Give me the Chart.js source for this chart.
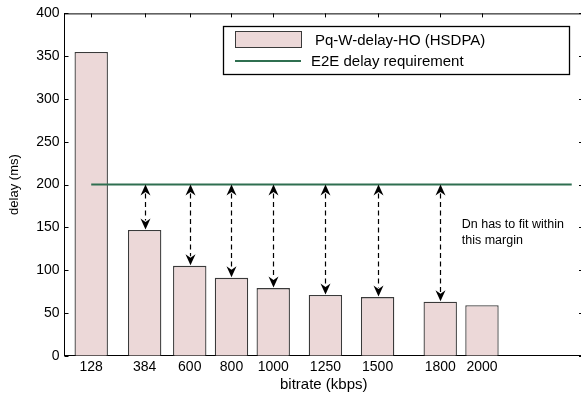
<!DOCTYPE html>
<html>
<head>
<meta charset="utf-8">
<script src="https://cdn.jsdelivr.net/npm/chart.js@4"></script>
<style>
    html, body { margin: 0; padding: 0; background: #fff; overflow: hidden; }
    #wrap { width: 590px; height: 395px; }
</style>
</head>
<body>
<div id="wrap"><canvas id="delayChart" width="590" height="395"></canvas></div>
<script>
// ===== DATA =====
const bitrates = [128, 384, 600, 800, 1000, 1250, 1500, 1800, 2000];
const delays = [355, 147, 105, 91, 79, 71, 68.5, 63, 59];
const requirementX = [128, 2430];
const requirementY = [200, 200];
const arrowBitrates = [384, 600, 800, 1000, 1250, 1500, 1800];
const yTicks = [0, 50, 100, 150, 200, 250, 300, 350, 400];
const noteLines = ['Dn has to fit within', 'this margin'];
const noteAt = [1903, 153];

const barFill = '#ecd8d8';
const barEdge = '#3a3a3a';
const reqColor = '#2f6f50';
const FONT = "'Liberation Sans', Arial, Helvetica, sans-serif";

// ===== HELPERS =====
function arrowHead(ctx, x, y, dir) {
    // dir = -1 points up, 1 points down; (x, y) is the tip
    const len = 11, half = 5, notch = 7.5;
    ctx.beginPath();
    ctx.moveTo(x, y);
    ctx.lineTo(x - half, y - dir * len);
    ctx.lineTo(x, y - dir * notch);
    ctx.lineTo(x + half, y - dir * len);
    ctx.closePath();
    ctx.fill();
}

// ===== FRAME + INWARD TICKS (under the bars) =====
const framePlugin = {
    id: 'frame',
    beforeDatasetsDraw(chart) {
        const { ctx, chartArea: a, scales: { x, y } } = chart;
        ctx.save();
        ctx.strokeStyle = '#000';
        ctx.lineWidth = 1;
        ctx.beginPath();
        ctx.moveTo(a.left, a.top + 0.5);
        ctx.lineTo(a.right, a.top + 0.5);
        ctx.moveTo(a.right - 0.5, a.top);
        ctx.lineTo(a.right - 0.5, a.bottom);
        const tl = 4;
        yTicks.forEach(v => {
            const py = Math.round(y.getPixelForValue(v)) + 0.5;
            ctx.moveTo(a.left, py); ctx.lineTo(a.left + tl, py);
            ctx.moveTo(a.right, py); ctx.lineTo(a.right - tl, py);
        });
        bitrates.forEach(v => {
            const px = Math.round(x.getPixelForValue(v)) + 0.5;
            ctx.moveTo(px, a.top); ctx.lineTo(px, a.top + tl);
            ctx.moveTo(px, a.bottom); ctx.lineTo(px, a.bottom - tl);
        });
        ctx.stroke();
        ctx.restore();
    }
};

// ===== ARROWS, NOTE, LEGEND (on top) =====
const overlayPlugin = {
    id: 'overlay',
    afterDatasetsDraw(chart) {
        const { ctx, scales: { x, y } } = chart;
        ctx.save();

        // dashed double arrows between requirement and bar top
        ctx.strokeStyle = '#000';
        ctx.fillStyle = '#000';
        ctx.lineWidth = 1.2;
        arrowBitrates.forEach(b => {
            const i = bitrates.indexOf(b);
            const px = Math.round(x.getPixelForValue(b)) + 0.5;
            const yTop = y.getPixelForValue(requirementY[0]);
            const yBot = y.getPixelForValue(delays[i]) - 0.5;
            ctx.setLineDash([5, 3.5]);
            ctx.beginPath();
            ctx.moveTo(px, yTop + 9);
            ctx.lineTo(px, yBot - 9);
            ctx.stroke();
            ctx.setLineDash([]);
            arrowHead(ctx, px, yTop, -1);
            arrowHead(ctx, px, yBot, 1);
        });

        // annotation text
        ctx.font = '12.5px ' + FONT;
        ctx.textAlign = 'left';
        ctx.textBaseline = 'middle';
        const nx = x.getPixelForValue(noteAt[0]);
        const ny = y.getPixelForValue(noteAt[1]);
        noteLines.forEach((t, k) => ctx.fillText(t, nx, ny + k * 16));

        // legend box
        const bx = 223.5, by = 26.5, bw = 346, bh = 48;
        ctx.fillStyle = '#fff';
        ctx.fillRect(bx, by, bw, bh);
        ctx.strokeStyle = '#000';
        ctx.lineWidth = 1.3;
        ctx.strokeRect(bx, by, bw, bh);

        const ds = chart.data.datasets;
        ctx.fillStyle = ds[0].backgroundColor;
        ctx.fillRect(235.5, 31.5, 66, 16);
        ctx.strokeStyle = ds[0].borderColor;
        ctx.lineWidth = 1;
        ctx.strokeRect(235.5, 31.5, 66, 16);

        ctx.strokeStyle = ds[1].borderColor;
        ctx.lineWidth = 2;
        ctx.beginPath();
        ctx.moveTo(235, 61);
        ctx.lineTo(301, 61);
        ctx.stroke();

        ctx.fillStyle = '#000';
        ctx.font = '15px ' + FONT;
        ctx.fillText(ds[0].label, 315, 40.5);
        ctx.fillText(ds[1].label, 311, 61.5);

        ctx.restore();
    }
};

// ===== CHART =====
new Chart(document.getElementById('delayChart'), {
    type: 'bar',
    data: {
        datasets: [{
            type: 'bar',
            label: 'Pq-W-delay-HO (HSDPA)',
            data: bitrates.map((b, i) => ({ x: b, y: delays[i] })),
            backgroundColor: barFill,
            borderColor: barEdge,
            borderWidth: 1.3,
            categoryPercentage: 1,
            barPercentage: 0.8,
            order: 1
        }, {
            type: 'line',
            label: 'E2E delay requirement',
            data: requirementX.map((b, i) => ({ x: b, y: requirementY[i] })),
            borderColor: reqColor,
            borderWidth: 2,
            pointRadius: 0,
            fill: false,
            order: 0
        }]
    },
    options: {
        responsive: false,
        animation: false,
        layout: { padding: { top: 13, right: 7, left: 0, bottom: 0 } },
        plugins: {
            legend: { display: false },
            tooltip: { enabled: false }
        },
        scales: {
            x: {
                type: 'linear',
                min: 0,
                max: 2484,
                offset: false,
                afterFit(scale) { scale.height = 39.3; },
                afterBuildTicks(scale) { scale.ticks = bitrates.map(v => ({ value: v })); },
                grid: { display: false, drawTicks: false },
                border: { display: true, color: '#000', width: 1 },
                ticks: {
                    color: '#000',
                    padding: 3,
                    maxRotation: 0,
                    autoSkip: false,
                    font: { size: 14, family: FONT },
                    callback: v => String(v)
                },
                title: {
                    display: true,
                    text: 'bitrate (kbps)',
                    color: '#000',
                    font: { size: 15, family: FONT },
                    padding: { top: 0, bottom: 1 }
                }
            },
            y: {
                min: 0,
                max: 400,
                afterFit(scale) { scale.width = 64.5; },
                afterBuildTicks(scale) { scale.ticks = yTicks.map(v => ({ value: v })); },
                grid: { display: false, drawTicks: false },
                border: { display: true, color: '#000', width: 1 },
                ticks: {
                    color: '#000',
                    padding: 5,
                    font: { size: 14, family: FONT }
                },
                title: {
                    display: true,
                    text: 'delay (ms)',
                    color: '#000',
                    font: { size: 13, family: FONT },
                    padding: { top: 7, bottom: 0 }
                }
            }
        }
    },
    plugins: [framePlugin, overlayPlugin]
});
</script>
</body>
</html>
